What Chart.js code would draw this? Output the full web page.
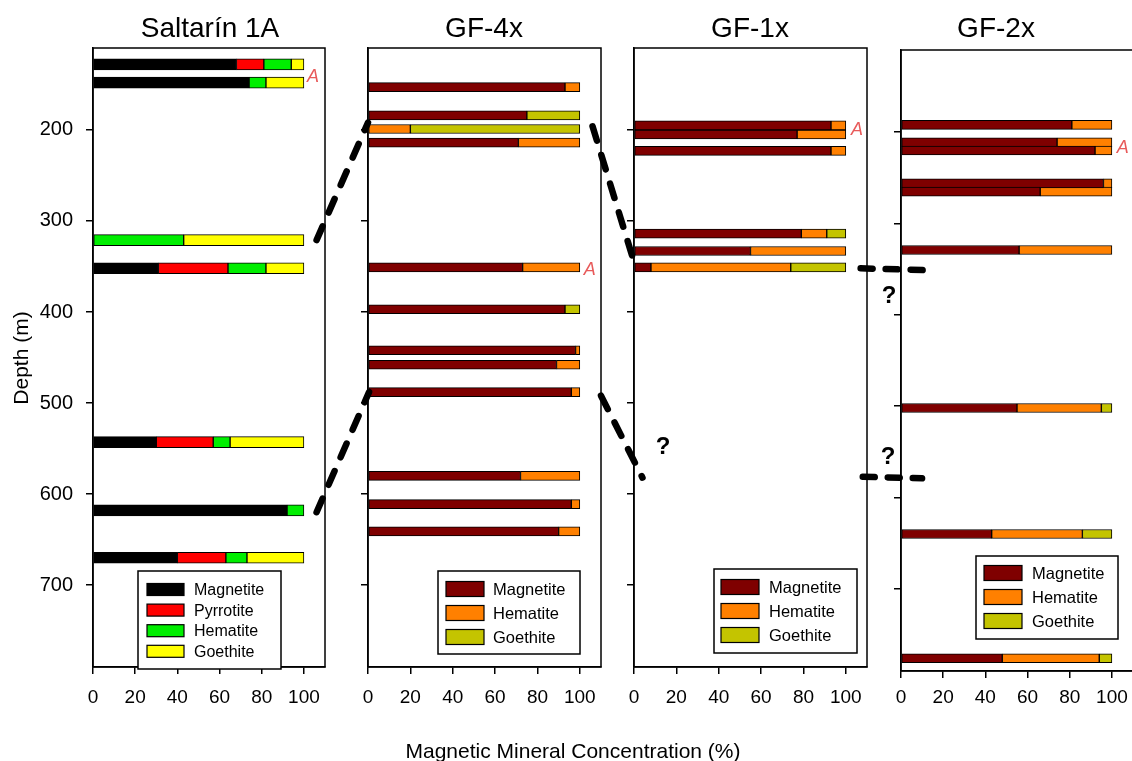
<!DOCTYPE html>
<html>
<head>
<meta charset="utf-8">
<title>Magnetic Mineral Concentration</title>
<script src="https://cdn.jsdelivr.net/npm/chart.js@4.4.1/dist/chart.umd.min.js"></script>
<style>
  html, body { margin: 0; padding: 0; background: #fff; overflow: hidden; }
  #wrap { position: relative; width: 1132px; height: 761px; overflow: hidden; background: #fff; }
  #wrap canvas { position: absolute; left: 0; top: 0; }
</style>
</head>
<body>
<div id="wrap">
  <canvas id="c1" width="1140" height="761"></canvas>
  <canvas id="c2" width="1140" height="761"></canvas>
  <canvas id="c3" width="1140" height="761"></canvas>
  <canvas id="c4" width="1140" height="761"></canvas>
  <canvas id="overlay" width="1132" height="761"></canvas>
</div>
<script>
const xTicks = [0, 20, 40, 60, 80, 100];
const depthTicks = [200, 300, 400, 500, 600, 700];

// Saltarín 1A
const s1Depth = [128, 148, 321, 352, 543, 618, 670];
const s1Magnetite = [68, 74, null, 31, 30, 92, 40];
const s1Pyrrotite = [13, null, null, 33, 27, null, 23];
const s1Hematite = [13, 8, 43, 18, 8, 8, 10];
const s1Goethite = [6, 18, 57, 18, 35, null, 27];

// GF-4x
const g4Depth = [153, 184, 199, 214, 351, 397, 442, 458, 488, 580, 611, 641];
const g4Magnetite = [93, 75, null, 71, 73, 93, 98, 89, 96, 72, 96, 90];
const g4Hematite = [7, null, 20, 29, 27, null, 2, 11, 4, 28, 4, 10];
const g4Goethite = [null, 25, 80, null, null, 7, null, null, null, null, null, null];

// GF-1x
const g1Depth = [195, 205, 223, 314, 333, 351];
const g1Magnetite = [93, 77, 93, 79, 55, 8];
const g1Hematite = [7, 23, 7, 12, 45, 66];
const g1Goethite = [null, null, null, 9, null, 26];

// GF-2x
const g2Depth = [192, 211, 220, 256, 265, 329, 502, 640, 776];
const g2Magnetite = [81, 74, 92, 96, 66, 56, 55, 43, 48];
const g2Hematite = [19, 26, 8, 4, 34, 44, 40, 43, 46];
const g2Goethite = [null, null, null, null, null, null, 5, 14, 6];

const FONT = '"Liberation Sans", Arial, sans-serif';
Chart.defaults.font.family = FONT;
Chart.defaults.color = '#000';

function makeSets(labels, series, colors, depths, thickness) {
  return labels.map((label, k) => ({
    label: label,
    data: depths.map((d, i) => ({ x: series[k][i], y: d })).filter(p => p.x !== null),
    backgroundColor: colors[k],
    borderColor: '#000',
    borderWidth: 1,
    borderSkipped: false,
    barThickness: thickness
  }));
}

const framePlugin = {
  id: 'panelDeco',
  afterDraw(chart, args, opts) {
    const ctx = chart.ctx;
    const a = chart.chartArea;
    ctx.save();
    // frame
    ctx.strokeStyle = '#000';
    ctx.lineWidth = 1.5;
    ctx.strokeRect(a.left, a.top, a.right - a.left, a.bottom - a.top);
    // title
    ctx.fillStyle = '#000';
    ctx.font = '28px ' + FONT;
    ctx.textAlign = 'center';
    ctx.textBaseline = 'alphabetic';
    ctx.fillText(opts.title, opts.titleX, 37);
    // "A" notes
    ctx.fillStyle = '#e85a5a';
    ctx.font = 'italic 18px ' + FONT;
    ctx.textAlign = 'left';
    ctx.textBaseline = 'middle';
    (opts.notes || []).forEach(n => {
      ctx.fillText('A', chart.scales.x.getPixelForValue(n[0]), chart.scales.y.getPixelForValue(n[1]));
    });
    // legend box
    const lg = opts.legend;
    ctx.fillStyle = '#fff';
    ctx.fillRect(lg.x, lg.y, lg.w, lg.h);
    ctx.strokeStyle = '#000';
    ctx.lineWidth = 1.5;
    ctx.strokeRect(lg.x, lg.y, lg.w, lg.h);
    ctx.font = lg.font + 'px ' + FONT;
    ctx.textAlign = 'left';
    ctx.textBaseline = 'middle';
    chart.data.datasets.forEach((ds, i) => {
      const cy = lg.row0 + i * lg.gap;
      ctx.fillStyle = ds.backgroundColor;
      ctx.fillRect(lg.sx, cy - lg.sh / 2, lg.sw, lg.sh);
      ctx.strokeStyle = '#000';
      ctx.lineWidth = 1.2;
      ctx.strokeRect(lg.sx, cy - lg.sh / 2, lg.sw, lg.sh);
      ctx.fillStyle = '#000';
      ctx.fillText(ds.label, lg.tx, cy + 1);
    });
    ctx.restore();
  }
};

function makePanel(id, datasets, area, showDepth, deco) {
  const W = 1140, H = 761;
  return new Chart(document.getElementById(id), {
    type: 'bar',
    data: { datasets: datasets },
    options: {
      indexAxis: 'y',
      responsive: false,
      animation: false,
      events: [],
      layout: { padding: { left: 0, top: area.top, right: W - area.right, bottom: 0 } },
      plugins: {
        legend: { display: false },
        tooltip: { enabled: false },
        title: { display: false },
        panelDeco: deco
      },
      scales: {
        x: {
          type: 'linear',
          stacked: true,
          min: 0,
          max: 110,
          afterBuildTicks: s => { s.ticks = xTicks.map(v => ({ value: v })); },
          afterFit: s => { s.height = H - area.bottom; },
          ticks: { font: { size: 19 }, color: '#000', padding: area.xPad, maxRotation: 0, autoSkip: false },
          grid: { display: true, drawOnChartArea: false, drawTicks: true, tickLength: 7, color: '#000', lineWidth: 1.5, offset: false },
          border: { display: true, color: '#000', width: 1.5 }
        },
        y: {
          type: 'linear',
          stacked: true,
          reverse: true,
          offset: false,
          min: 110,
          max: 790,
          afterBuildTicks: s => { s.ticks = depthTicks.map(v => ({ value: v })); },
          afterFit: s => { s.width = area.left; },
          ticks: { display: showDepth, font: { size: 20 }, color: '#000', padding: 13, autoSkip: false },
          grid: { display: true, drawOnChartArea: false, drawTicks: true, tickLength: 7, color: '#000', lineWidth: 1.5, offset: false },
          border: { display: true, color: '#000', width: 1.5 }
        }
      }
    },
    plugins: [framePlugin]
  });
}

const gfLabels = ['Magnetite', 'Hematite', 'Goethite'];
const gfColors = ['#7f0000', '#ff8000', '#c4c400'];

const chart1 = makePanel('c1',
  makeSets(['Magnetite', 'Pyrrotite', 'Hematite', 'Goethite'],
    [s1Magnetite, s1Pyrrotite, s1Hematite, s1Goethite],
    ['#000000', '#ff0000', '#00ee00', '#ffff00'], s1Depth, 11),
  { left: 93, top: 48, right: 325, bottom: 667, xPad: 12 }, true,
  { title: 'Saltarín 1A', titleX: 210, notes: [[101.5, 142]],
    legend: { x: 138, y: 571, w: 143, h: 98, row0: 589.5, gap: 20.6, sx: 147, sw: 37, sh: 12, tx: 194, font: 16 } });

const chart2 = makePanel('c2',
  makeSets(gfLabels, [g4Magnetite, g4Hematite, g4Goethite], gfColors, g4Depth, 9),
  { left: 368, top: 48, right: 601, bottom: 667, xPad: 12 }, false,
  { title: 'GF-4x', titleX: 484, notes: [[101.8, 354]],
    legend: { x: 438, y: 571, w: 142, h: 83, row0: 589, gap: 24, sx: 446, sw: 38, sh: 15, tx: 493, font: 16.5 } });

const chart3 = makePanel('c3',
  makeSets(gfLabels, [g1Magnetite, g1Hematite, g1Goethite], gfColors, g1Depth, 9),
  { left: 634, top: 48, right: 867, bottom: 667, xPad: 12 }, false,
  { title: 'GF-1x', titleX: 750, notes: [[102.5, 200]],
    legend: { x: 714, y: 569, w: 143, h: 84, row0: 587, gap: 24, sx: 721, sw: 38, sh: 15, tx: 769, font: 16.5 } });

const chart4 = makePanel('c4',
  makeSets(gfLabels, [g2Magnetite, g2Hematite, g2Goethite], gfColors, g2Depth, 9),
  { left: 901, top: 50, right: 1133, bottom: 671, xPad: 8 }, false,
  { title: 'GF-2x', titleX: 996, notes: [[102.3, 217]],
    legend: { x: 976, y: 556, w: 142, h: 83, row0: 573, gap: 24, sx: 984, sw: 38, sh: 15, tx: 1032, font: 16.5 } });

// correlation lines between wells: [from chart, x, depth, to chart, x, depth, dash]
const charts = [chart1, chart2, chart3, chart4];
const links = [
  [0, 106, 321, 1, 0, 192, [15, 15]],
  [0, 106, 620, 1, 0.5, 488, [15, 15]],
  [1, 106, 196, 2, 0, 345, [15, 15]],
  [1, 110, 492, 2, 4, 582, [15, 15]],
  [2, 107, 352, 3, 11, 351, [12, 13]],
  [2, 108, 581, 3, 10, 579, [12, 13]]
];

const oc = document.getElementById('overlay').getContext('2d');
oc.strokeStyle = '#000';
oc.lineWidth = 6.5;
oc.lineCap = 'round';
links.forEach(l => {
  const a = charts[l[0]].scales, b = charts[l[3]].scales;
  oc.setLineDash(l[6]);
  oc.beginPath();
  oc.moveTo(a.x.getPixelForValue(l[1]), a.y.getPixelForValue(l[2]));
  oc.lineTo(b.x.getPixelForValue(l[4]), b.y.getPixelForValue(l[5]));
  oc.stroke();
});
oc.setLineDash([]);

oc.fillStyle = '#000';
oc.font = 'bold 24px ' + FONT;
oc.textAlign = 'center';
oc.textBaseline = 'middle';
oc.fillText('?', 663, 447);
oc.fillText('?', 889, 296);
oc.fillText('?', 888, 457);

oc.font = '21px ' + FONT;
oc.textBaseline = 'alphabetic';
oc.fillText('Magnetic Mineral Concentration (%)', 573, 758);

oc.save();
oc.translate(28, 358);
oc.rotate(-Math.PI / 2);
oc.textBaseline = 'alphabetic';
oc.fillText('Depth (m)', 0, 0);
oc.restore();
</script>
</body>
</html>
